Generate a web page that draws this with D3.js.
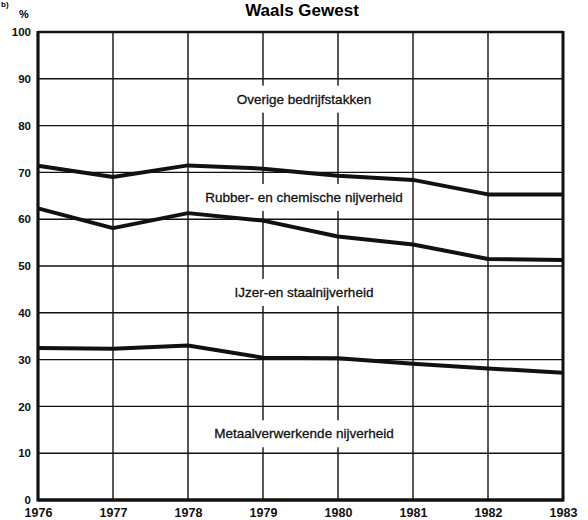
<!DOCTYPE html>
<html>
<head>
<meta charset="utf-8">
<script src="https://cdn.jsdelivr.net/npm/d3@7"></script>
<style>
  html, body { margin: 0; padding: 0; background: #fff; }
  svg { display: block; }
</style>
</head>
<body>
<svg id="chart" width="588" height="520"></svg>
<script>
const years = [1976, 1977, 1978, 1979, 1980, 1981, 1982, 1983];
const yTicks = [0, 10, 20, 30, 40, 50, 60, 70, 80, 90, 100];
// cumulative boundaries (%)
const boundaryOverige = [71.4, 69.0, 71.5, 70.8, 69.3, 68.4, 65.3, 65.3];
const boundaryRubber  = [62.3, 58.1, 61.3, 59.7, 56.3, 54.6, 51.5, 51.3];
const boundaryIJzer   = [32.5, 32.3, 33.0, 30.4, 30.3, 29.1, 28.1, 27.2];
const labels = [
  { text: "Overige bedrijfstakken", value: 85.7 },
  { text: "Rubber- en chemische nijverheid", value: 64.7 },
  { text: "IJzer-en staalnijverheid", value: 44.4 },
  { text: "Metaalverwerkende nijverheid", value: 14.2 }
];
const title = "Waals Gewest";
const unitLabel = "%";
const cornerLabel = "b)";

const svg = d3.select("#chart");
const font = "'Liberation Sans', Arial, Helvetica, sans-serif";
const m = { left: 38, right: 563, top: 32, bottom: 500 };

const x = d3.scaleLinear().domain([1976, 1983]).range([m.left, m.right]);
const y = d3.scaleLinear().domain([0, 100]).range([m.bottom, m.top]);

// corner label
svg.append("text").attr("x", 1).attr("y", 7)
  .attr("font-family", font).attr("font-weight", "bold").attr("font-size", 8)
  .text(cornerLabel);

// title
svg.append("text").attr("x", 302).attr("y", 16).attr("text-anchor", "middle")
  .attr("font-family", font).attr("font-weight", "bold").attr("font-size", 17)
  .text(title);

svg.append("text").attr("x", 24).attr("y", 18).attr("text-anchor", "middle")
  .attr("font-family", font).attr("font-weight", "bold").attr("font-size", 11)
  .text(unitLabel);

// grid
const g = svg.append("g");
g.selectAll(".hg").data(yTicks.filter(d => d > 0 && d < 100)).join("line")
  .attr("x1", m.left).attr("x2", m.right)
  .attr("y1", d => y(d)).attr("y2", d => y(d))
  .attr("stroke", "#111").attr("stroke-width", 1.4);
g.selectAll(".vg").data(years.slice(1, -1)).join("line")
  .attr("x1", d => x(d)).attr("x2", d => x(d))
  .attr("y1", m.top).attr("y2", m.bottom)
  .attr("stroke", "#111").attr("stroke-width", 1.4);

// label boxes (white) interrupting grid
const lg = svg.append("g");
labels.forEach(l => {
  const t = lg.append("text")
    .attr("x", 304).attr("y", y(l.value))
    .attr("dy", "0.35em")
    .attr("text-anchor", "middle")
    .attr("font-family", font).attr("font-size", 13.5)
    .attr("fill", "#111").attr("stroke", "#111").attr("stroke-width", 0.3)
    .text(l.text);
  const bb = t.node().getBBox();
  lg.insert("rect", "text")
    .attr("x", bb.x - 5).attr("y", bb.y - 6)
    .attr("width", bb.width + 10).attr("height", bb.height + 12)
    .attr("fill", "#fff");
});

// boundary lines
const line = d3.line().x((d, i) => x(years[i])).y(d => y(d));
[boundaryOverige, boundaryRubber, boundaryIJzer].forEach(s => {
  svg.append("path").datum(s).attr("d", line)
    .attr("fill", "none").attr("stroke", "#111")
    .attr("stroke-width", 4).attr("stroke-linejoin", "round");
});

// frame
svg.append("line").attr("x1", m.left).attr("x2", m.right).attr("y1", m.top).attr("y2", m.top)
  .attr("stroke", "#111").attr("stroke-width", 2.6);
svg.append("line").attr("x1", m.left).attr("x2", m.right).attr("y1", m.bottom).attr("y2", m.bottom)
  .attr("stroke", "#111").attr("stroke-width", 3.5);
svg.append("line").attr("x1", m.left).attr("x2", m.left).attr("y1", m.top - 1).attr("y2", m.bottom + 1.5)
  .attr("stroke", "#111").attr("stroke-width", 3.2);
svg.append("line").attr("x1", m.right).attr("x2", m.right).attr("y1", m.top - 1).attr("y2", m.bottom + 1.5)
  .attr("stroke", "#111").attr("stroke-width", 3);

// y axis labels
const yAxis = d3.axisLeft(y).tickValues(yTicks).tickSize(0).tickPadding(6);
const ya = svg.append("g").attr("transform", `translate(${m.left - 1},0)`).call(yAxis);
ya.select(".domain").remove();
ya.selectAll("text").attr("font-family", font).attr("font-weight", "bold")
  .attr("font-size", 11.5).attr("fill", "#111");

// x axis labels
const xAxis = d3.axisBottom(x).tickValues(years).tickFormat(d3.format("d")).tickSize(0).tickPadding(8);
const xa = svg.append("g").attr("transform", `translate(0,${m.bottom})`).call(xAxis);
xa.select(".domain").remove();
xa.selectAll("text").attr("font-family", font).attr("font-weight", "bold")
  .attr("font-size", 12.5).attr("fill", "#111");
</script>
</body>
</html>
